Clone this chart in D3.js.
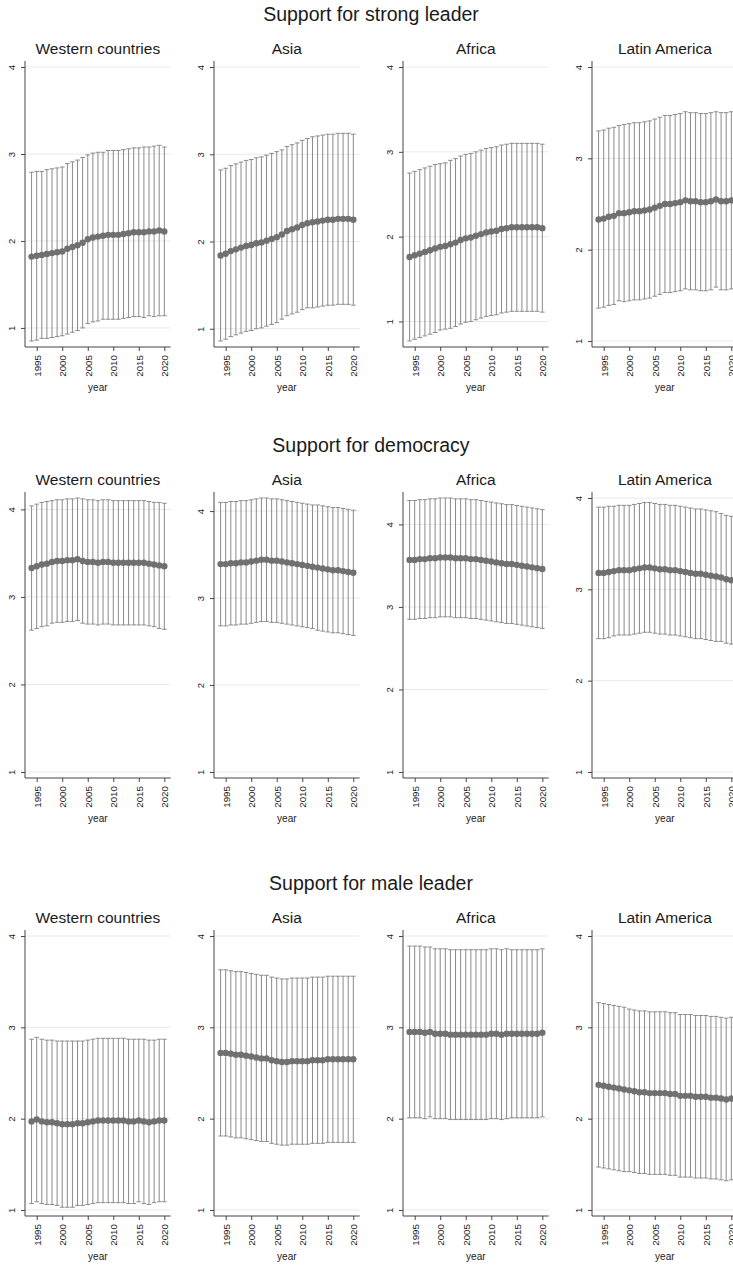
<html>
<head>
<meta charset="utf-8">
<title>Support by region, 1994-2020</title>
<script src="https://cdn.jsdelivr.net/npm/d3@7"></script>
<style type="text/css">
  body { margin: 0; background: #fff; }
  text { font-family: "Liberation Sans", Arial, Helvetica, sans-serif; fill: #1a1a1a; }
</style>
</head>
<body>
<div id="chart"></div>
<script>

var years = [1994,1995,1996,1997,1998,1999,2000,2001,2002,2003,2004,2005,2006,2007,
             2008,2009,2010,2011,2012,2013,2014,2015,2016,2017,2018,2019,2020];
var yearTicks = [1995, 2000, 2005, 2010, 2015, 2020];
var yTicks = [1, 2, 3, 4];
var regions = ["Western countries", "Asia", "Africa", "Latin America"];
var topics = ["Support for strong leader", "Support for democracy", "Support for male leader"];

// means, one row per region (Western, Asia, Africa, Latin America)
var strongLeaderMean = [
  [1.82,1.83,1.84,1.85,1.86,1.87,1.88,1.91,1.93,1.95,1.98,2.02,2.04,2.05,2.06,2.07,2.07,2.07,2.08,2.09,2.10,2.10,2.10,2.11,2.11,2.12,2.11],
  [1.84,1.86,1.89,1.91,1.93,1.95,1.96,1.98,1.99,2.01,2.03,2.05,2.08,2.12,2.14,2.16,2.19,2.21,2.22,2.23,2.24,2.25,2.25,2.26,2.26,2.26,2.25],
  [1.76,1.78,1.80,1.82,1.84,1.86,1.88,1.89,1.91,1.93,1.96,1.98,1.99,2.01,2.03,2.05,2.06,2.07,2.09,2.10,2.11,2.11,2.11,2.11,2.11,2.11,2.10],
  [2.33,2.34,2.36,2.37,2.40,2.40,2.41,2.42,2.42,2.43,2.44,2.46,2.48,2.50,2.50,2.51,2.52,2.54,2.53,2.53,2.52,2.52,2.53,2.55,2.53,2.53,2.54]
];
var strongLeaderSd = [
  [0.97,0.97,0.96,0.97,0.97,0.97,0.97,0.98,0.98,0.98,0.98,0.97,0.97,0.97,0.96,0.97,0.97,0.97,0.97,0.97,0.97,0.97,0.98,0.97,0.98,0.98,0.97],
  [0.98,0.98,0.98,0.98,0.98,0.98,0.98,0.98,0.98,0.98,0.98,0.98,0.97,0.97,0.97,0.97,0.97,0.97,0.98,0.98,0.98,0.98,0.98,0.98,0.98,0.98,0.98],
  [0.99,0.99,0.99,0.99,0.99,0.99,0.98,0.98,0.99,0.99,0.99,0.99,0.99,0.99,0.99,0.99,0.99,0.99,0.99,0.99,0.99,0.99,0.99,0.99,0.99,0.99,0.99],
  [0.97,0.97,0.97,0.97,0.96,0.97,0.97,0.97,0.97,0.97,0.97,0.97,0.97,0.97,0.97,0.97,0.97,0.97,0.97,0.97,0.97,0.97,0.97,0.96,0.97,0.97,0.97]
];

var democracyMean = [
  [3.33,3.35,3.37,3.38,3.40,3.41,3.41,3.42,3.42,3.43,3.41,3.40,3.40,3.39,3.40,3.40,3.39,3.39,3.39,3.39,3.39,3.39,3.39,3.38,3.37,3.36,3.35],
  [3.39,3.39,3.40,3.40,3.41,3.41,3.42,3.43,3.44,3.44,3.43,3.43,3.42,3.41,3.40,3.39,3.38,3.37,3.36,3.35,3.34,3.33,3.32,3.32,3.31,3.30,3.29],
  [3.57,3.57,3.58,3.58,3.59,3.59,3.60,3.60,3.60,3.59,3.59,3.59,3.58,3.58,3.57,3.56,3.55,3.54,3.53,3.52,3.52,3.51,3.50,3.49,3.48,3.47,3.46],
  [3.18,3.18,3.19,3.20,3.21,3.21,3.21,3.22,3.23,3.24,3.24,3.23,3.22,3.22,3.21,3.21,3.20,3.19,3.18,3.17,3.17,3.16,3.15,3.14,3.13,3.11,3.10]
];
var democracySd = [
  [0.71,0.71,0.71,0.71,0.70,0.70,0.70,0.70,0.70,0.70,0.71,0.71,0.71,0.71,0.71,0.71,0.71,0.71,0.71,0.71,0.71,0.71,0.71,0.71,0.71,0.72,0.72],
  [0.71,0.71,0.71,0.71,0.71,0.71,0.71,0.71,0.71,0.71,0.71,0.71,0.71,0.71,0.71,0.71,0.71,0.71,0.71,0.72,0.72,0.72,0.72,0.72,0.72,0.72,0.72],
  [0.72,0.72,0.72,0.72,0.72,0.72,0.72,0.72,0.72,0.72,0.72,0.72,0.72,0.72,0.72,0.72,0.72,0.72,0.72,0.72,0.72,0.72,0.72,0.72,0.72,0.72,0.72],
  [0.72,0.72,0.72,0.71,0.71,0.71,0.71,0.71,0.71,0.71,0.71,0.71,0.71,0.71,0.71,0.71,0.71,0.71,0.71,0.71,0.71,0.71,0.71,0.71,0.70,0.70,0.70]
];

var maleLeaderMean = [
  [1.97,1.99,1.97,1.96,1.96,1.95,1.94,1.94,1.94,1.95,1.95,1.96,1.97,1.98,1.98,1.98,1.98,1.98,1.98,1.97,1.97,1.98,1.97,1.96,1.97,1.98,1.98],
  [2.72,2.72,2.71,2.70,2.70,2.69,2.68,2.67,2.66,2.66,2.64,2.63,2.62,2.62,2.63,2.63,2.63,2.63,2.64,2.64,2.64,2.65,2.65,2.65,2.65,2.65,2.65],
  [2.95,2.95,2.95,2.94,2.95,2.93,2.93,2.93,2.92,2.92,2.92,2.92,2.92,2.92,2.92,2.92,2.93,2.93,2.92,2.93,2.93,2.93,2.93,2.93,2.93,2.93,2.94],
  [2.37,2.36,2.35,2.34,2.33,2.32,2.31,2.30,2.29,2.29,2.28,2.28,2.28,2.28,2.27,2.27,2.25,2.25,2.25,2.24,2.24,2.24,2.23,2.23,2.22,2.21,2.22]
];
var maleLeaderSd = [
  [0.90,0.90,0.90,0.90,0.90,0.90,0.91,0.91,0.91,0.90,0.90,0.90,0.90,0.90,0.90,0.90,0.90,0.90,0.90,0.90,0.90,0.89,0.90,0.90,0.89,0.89,0.89],
  [0.91,0.91,0.91,0.91,0.91,0.91,0.91,0.91,0.91,0.91,0.91,0.91,0.91,0.91,0.91,0.91,0.91,0.91,0.91,0.91,0.91,0.91,0.91,0.91,0.91,0.91,0.91],
  [0.94,0.94,0.94,0.94,0.93,0.93,0.93,0.93,0.93,0.93,0.93,0.93,0.93,0.93,0.93,0.93,0.93,0.93,0.93,0.93,0.92,0.92,0.92,0.92,0.92,0.92,0.92],
  [0.90,0.90,0.90,0.90,0.90,0.90,0.89,0.89,0.89,0.89,0.89,0.89,0.89,0.89,0.89,0.89,0.89,0.89,0.89,0.89,0.89,0.89,0.89,0.89,0.89,0.89,0.89]
];

var allMeans = [strongLeaderMean, democracyMean, maleLeaderMean];
var allSds = [strongLeaderSd, democracySd, maleLeaderSd];

var width = 733, height = 1265;
var panelLeft = [25, 214, 403, 592];
var rowTop = [61, 492, 930];
var plotW = 145.7, plotH = 286;

var svg = d3.select("#chart").append("svg")
    .attr("width", width)
    .attr("height", height);

var x = d3.scaleLinear()
    .domain([years[0] - 1.29, years[years.length - 1] + 1.25])
    .range([0, plotW]);

function drawPanel(row, col) {
    var means = allMeans[row][col];
    var sds = allSds[row][col];
    var pts = years.map(function(yr, i) {
        return { year: yr, mean: means[i], lo: means[i] - sds[i], hi: means[i] + sds[i] };
    });

    // stata style: axis range covers ticks and data, with a small pad
    var lo = Math.min(1, d3.min(pts, function(d) { return d.lo; }));
    var hi = Math.max(4, d3.max(pts, function(d) { return d.hi; }));
    var pad = (hi - lo) * 0.022;
    var y = d3.scaleLinear().domain([lo - pad, hi + pad]).range([plotH, 0]);

    var g = svg.append("g")
        .attr("transform", "translate(" + panelLeft[col] + "," + rowTop[row] + ")");

    g.append("text")
        .attr("x", plotW / 2)
        .attr("y", -7.5)
        .attr("text-anchor", "middle")
        .style("font-size", "15.5px")
        .text(regions[col]);

    g.selectAll(".grid")
        .data(yTicks)
      .enter().append("line")
        .attr("x1", 0).attr("x2", plotW)
        .attr("y1", function(d) { return y(d); })
        .attr("y2", function(d) { return y(d); })
        .style("stroke", "#e9e9e9")
        .style("stroke-width", 1);

    // error bars
    var bars = g.append("g");
    bars.selectAll(".bar")
        .data(pts)
      .enter().append("line")
        .attr("x1", function(d) { return x(d.year); })
        .attr("x2", function(d) { return x(d.year); })
        .attr("y1", function(d) { return y(d.lo); })
        .attr("y2", function(d) { return y(d.hi); })
        .style("stroke", "#8a8a8a").style("stroke-width", 1);
    ["lo", "hi"].forEach(function(k) {
        bars.selectAll(".cap-" + k)
            .data(pts)
          .enter().append("line")
            .attr("x1", function(d) { return x(d.year) - 2.3; })
            .attr("x2", function(d) { return x(d.year) + 2.3; })
            .attr("y1", function(d) { return y(d[k]); })
            .attr("y2", function(d) { return y(d[k]); })
            .style("stroke", "#8a8a8a").style("stroke-width", 1);
    });

    g.append("path")
        .datum(pts)
        .attr("d", d3.line()
            .x(function(d) { return x(d.year); })
            .y(function(d) { return y(d.mean); }))
        .style("fill", "none")
        .style("stroke", "#707070")
        .style("stroke-width", 1.5);

    g.selectAll(".dot")
        .data(pts)
      .enter().append("circle")
        .attr("cx", function(d) { return x(d.year); })
        .attr("cy", function(d) { return y(d.mean); })
        .attr("r", 3.2)
        .style("fill", "#707070");

    // y axis
    var yAxis = g.append("g").call(d3.axisLeft(y).tickValues(yTicks).tickSize(4).tickFormat(d3.format("d")));
    yAxis.select(".domain").attr("d", "M0,0V" + plotH).style("stroke", "#444");
    yAxis.selectAll(".tick line").style("stroke", "#444");
    yAxis.selectAll(".tick text")
        .attr("x", null).attr("dy", null)
        .attr("transform", "translate(-10,0) rotate(-90)")
        .attr("text-anchor", "middle")
        .style("font-size", "9.5px")
        .style("font-family", "'Liberation Sans', Arial, sans-serif")
        .style("fill", "#1a1a1a");

    // x axis
    var xAxis = g.append("g")
        .attr("transform", "translate(0," + plotH + ")")
        .call(d3.axisBottom(x).tickValues(yearTicks).tickSize(4).tickFormat(d3.format("d")));
    xAxis.select(".domain").attr("d", "M0,0H" + plotW).style("stroke", "#444");
    xAxis.selectAll(".tick line").style("stroke", "#444");
    xAxis.selectAll(".tick text")
        .attr("y", null).attr("dy", null)
        .attr("transform", "translate(0,8) rotate(-90)")
        .attr("text-anchor", "end")
        .attr("dy", "0.35em")
        .style("font-size", "9.8px")
        .style("font-family", "'Liberation Sans', Arial, sans-serif")
        .style("fill", "#1a1a1a");

    g.append("text")
        .attr("x", plotW / 2)
        .attr("y", plotH + 44)
        .attr("text-anchor", "middle")
        .style("font-size", "10px")
        .text("year");
}

topics.forEach(function(t, row) {
    svg.append("text")
        .attr("x", 371)
        .attr("y", rowTop[row] - 40)
        .attr("text-anchor", "middle")
        .style("font-size", "19.5px")
        .text(t);
    regions.forEach(function(r, col) { drawPanel(row, col); });
});

</script>
</body>
</html>
